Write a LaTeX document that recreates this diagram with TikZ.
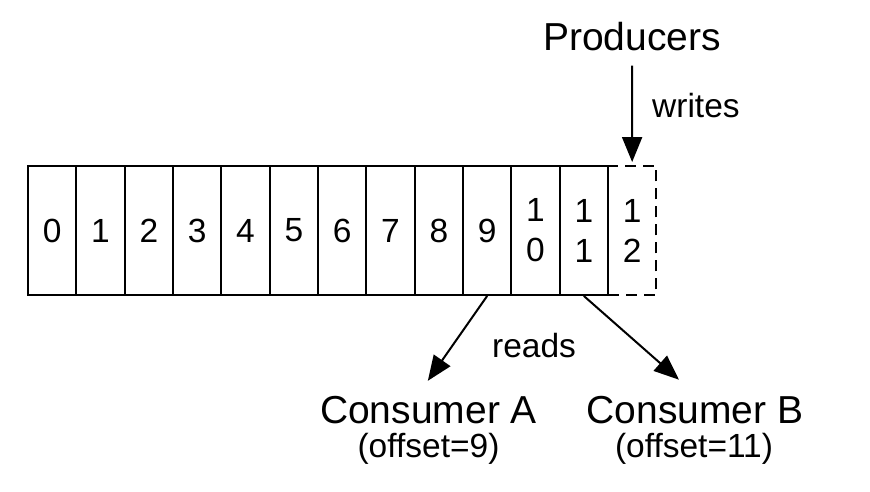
\documentclass[tikz,border=0pt]{standalone}
\usepackage{fontspec}
\setmainfont{Liberation Sans}
\usetikzlibrary{arrows.meta,calc}
\begin{document}
\begin{tikzpicture}[x=1pt,y=-1pt,
  cell/.style={draw,line width=1.9pt,minimum width=48.333pt,minimum height=129pt,inner sep=0pt,
    font=\fontsize{33.5}{40}\selectfont,align=center},
  newcell/.style={cell,dash pattern=on 11pt off 7pt},
  big/.style={inner sep=0pt,font=\fontsize{39}{47}\selectfont},
  small/.style={inner sep=0pt,font=\fontsize{33.5}{40}\selectfont},
  arr/.style={line width=2pt,-{Triangle[length=25pt,width=20pt]}}]
\useasboundingbox (0,0) rectangle (870,492);
\foreach \i in {0,...,9}
  \node[cell] (c\i) at ({28+48.333*(\i+0.5)},230.5) {\i};
\node[cell] (c10) at ({28+48.333*10.5},230.5) {1\\0};
\node[cell] (c11) at ({28+48.333*11.5},230.5) {1\\1};
\node[newcell] (c12) at ({28+48.333*12.5},230.5) {1\\2};
% labels
\node[big,anchor=base] (prod) at (632,51) {Producers};
\node[small,anchor=base west] (writes) at (652,118) {writes};
\node[small,anchor=base west] (reads) at (492,357) {reads};
\node[big,anchor=base] (ca) at (428.5,423) {Consumer A};
\node[small,anchor=base] (oa) at (428.5,457) {(offset=9)};
\node[big,anchor=base] (cb) at (695,423) {Consumer B};
\node[small,anchor=base] (ob) at (694,457) {(offset=11)};
% connectors
\draw[arr,shorten <=14pt,shorten >=3pt] (prod.south) -- (c12.north);
\draw[arr,shorten >=18pt] (c9.south) -- ([xshift=-11pt]ca.north);
\draw[arr,shorten >=24pt] (c11.south) -- ([xshift=2pt]cb.north);
\end{tikzpicture}
\end{document}
